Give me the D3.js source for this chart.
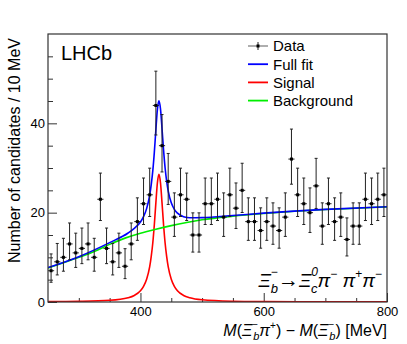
<!DOCTYPE html>
<html>
<head>
<meta charset="utf-8">
<script src="https://cdn.jsdelivr.net/npm/d3@7"></script>
<style>
  html, body { margin: 0; padding: 0; background: #fff; }
  svg { display: block; font-family: "Liberation Sans", Arial, Helvetica, sans-serif; }
</style>
</head>
<body>
<svg id="plot"></svg>
<script>
// bin centres of the 10 MeV histogram
const binCenters = d3.range(255, 800, 10);
// candidates per bin
const counts = [7, 9, 10, 13, 11, 12, 13, 10, 23, 12, 9, 11, 8, 13,
                18, 22, 24, 44, 35, 27, 19, 24, 23, 15, 15, 22, 22, 23,
                19, 24, 21, 25, 18, 18, 16, 18, 17, 16, 19, 32, 24, 22,
                20, 26, 17, 22, 18, 19, 14, 17, 17, 23, 22, 23, 24];

// mass points where the fit curves were sampled
const fitMass = [250, 300, 350, 380, 390, 400, 405, 410, 415, 417.5, 420, 422.5, 425, 427.5, 430,
                 432.5, 435, 437.5, 440, 442.5, 445, 450, 455, 460, 470, 480, 500, 550, 600, 700, 800];
// signal component (red)
const signalCurve = [0.08, 0.15, 0.38, 0.96, 1.47, 2.5, 3.5, 5.1, 7.9, 10.2, 13.2, 17.3, 22.2, 26.7, 28.6,
                     26.7, 22.2, 17.3, 13.2, 10.2, 7.9, 5.1, 3.5, 2.5, 1.47, 0.96, 0.5, 0.17, 0.085, 0.034, 0.02];
// full fit (blue)
const fullCurve = [7.7, 10.15, 13.3, 15.45, 16.5, 17.9, 19.1, 20.9, 23.9, 26.3, 29.35, 33.5, 38.5, 43.1, 45.05,
                   43.25, 38.8, 34.0, 30.0, 27.05, 24.85, 22.2, 20.75, 19.9, 19.1, 18.85, 18.9, 19.37, 19.89, 20.73, 21.32];
// background component (green)
const bkgMass = [250, 275, 300, 325, 350, 375, 400, 425, 450, 475, 500, 550, 600, 650, 700, 750, 800];
const bkgCurve = [7.6, 8.8, 10.0, 11.3, 12.9, 14.3, 15.4, 16.3, 17.1, 17.8, 18.4, 19.2, 19.8, 20.3, 20.7, 21.0, 21.3];

// axis ticks
const xMajor = [400, 600, 800];
const xMinor = [300, 350, 450, 500, 550, 650, 700, 750];
const yMajor = [0, 20, 40];
const yMinor = [5, 10, 15, 25, 30, 35, 45, 50, 55];

// legend entries
const legendLabels = ["Data", "Full fit", "Signal", "Background"];
const legendColors = ["#000", "#0000ff", "#ff0000", "#00ee00"];

class MassPlot {

    constructor() {
        this.width = 407;
        this.height = 344;
        this.margin = {top: 34, right: 20, bottom: 42, left: 48};
        this.iw = this.width - this.margin.left - this.margin.right;
        this.ih = this.height - this.margin.top - this.margin.bottom;

        this.x = d3.scaleLinear().domain([250, 800]).range([0, this.iw]);
        this.y = d3.scaleLinear().domain([0, 60]).range([this.ih, 0]);
    }

    // asymmetric poisson interval (Wilson-Hilferty approx of the chi2 quantiles)
    poisson(n) {
        let q = (k, z) => k * Math.pow(1 - 2 / (9 * k) + z * Math.sqrt(2 / (9 * k)), 3);
        return {lo: n - 0.5 * q(2 * n, -1), hi: 0.5 * q(2 * n + 2, 1) - n};
    }

    // write a piece of text made of italic / sub / sup parts
    rich(sel, parts) {
        let shift = 0;
        parts.forEach((p) => {
            let s = p.shift || 0;
            let ts = sel.append("tspan").text(p.t);
            if (s !== shift) ts.attr("dy", s - shift);
            if (p.dx) ts.attr("dx", p.dx);
            if (p.it) ts.style("font-style", "italic");
            if (p.size) ts.style("font-size", p.size + "px");
            shift = s;
        });
    }

    draw() {
        let svg = d3.select("#plot")
            .attr("width", this.width)
            .attr("height", this.height);

        let g = svg.append("g")
            .attr("transform", "translate(" + this.margin.left + "," + this.margin.top + ")");

        g.append("defs").append("clipPath").attr("id", "clip")
            .append("rect").attr("width", this.iw).attr("height", this.ih);

        // ticks (drawn inward, ROOT style)
        g.append("g").attr("transform", "translate(0," + this.ih + ")")
            .call(d3.axisBottom(this.x).tickValues(xMajor).tickSizeInner(-9).tickSizeOuter(0).tickPadding(5));
        g.append("g").attr("transform", "translate(0," + this.ih + ")")
            .call(d3.axisBottom(this.x).tickValues(xMinor).tickSizeInner(-4).tickSizeOuter(0).tickFormat(""));
        g.append("g")
            .call(d3.axisLeft(this.y).tickValues(yMajor).tickSizeInner(-9).tickSizeOuter(0).tickPadding(3));
        g.append("g")
            .call(d3.axisLeft(this.y).tickValues(yMinor).tickSizeInner(-5).tickSizeOuter(0).tickFormat(""));

        g.selectAll(".domain").remove();
        g.selectAll(".tick line").attr("stroke", "#333");
        g.selectAll(".tick text")
            .style("font-family", "'Liberation Sans', Arial, sans-serif")
            .style("font-size", "13px")
            .attr("fill", "#000");

        // fit curves
        let curves = g.append("g").attr("clip-path", "url(#clip)");
        let line = (xs) => d3.line()
            .x((d, i) => this.x(xs[i]))
            .y((d) => this.y(d))
            .curve(d3.curveMonotoneX);

        curves.append("path").datum(signalCurve)
            .attr("d", line(fitMass)).attr("fill", "none")
            .attr("stroke", "#ff0000").attr("stroke-width", 1.6);
        curves.append("path").datum(bkgCurve)
            .attr("d", line(bkgMass)).attr("fill", "none")
            .attr("stroke", "#00ee00").attr("stroke-width", 1.6);
        curves.append("path").datum(fullCurve)
            .attr("d", line(fitMass)).attr("fill", "none")
            .attr("stroke", "#0000ff").attr("stroke-width", 1.6);

        // data points with error bars
        let pts = g.append("g").selectAll("g")
            .data(counts.map((c, i) => ({m: binCenters[i], n: c, e: this.poisson(c)})))
            .enter().append("g");

        pts.append("line")
            .attr("x1", (d) => this.x(d.m)).attr("x2", (d) => this.x(d.m))
            .attr("y1", (d) => this.y(d.n - d.e.lo)).attr("y2", (d) => this.y(d.n + d.e.hi))
            .attr("stroke", "#222").attr("stroke-width", 1);
        pts.append("line")
            .attr("x1", (d) => this.x(d.m - 5)).attr("x2", (d) => this.x(d.m + 5))
            .attr("y1", (d) => this.y(d.n)).attr("y2", (d) => this.y(d.n))
            .attr("stroke", "#222").attr("stroke-width", 1);
        [(d) => d.n - d.e.lo, (d) => d.n + d.e.hi].forEach((f) => {
            pts.append("line")
                .attr("x1", (d) => this.x(d.m) - 1.5).attr("x2", (d) => this.x(d.m) + 1.5)
                .attr("y1", (d) => this.y(f(d))).attr("y2", (d) => this.y(f(d)))
                .attr("stroke", "#222").attr("stroke-width", 1);
        });
        pts.append("rect")
            .attr("x", (d) => this.x(d.m) - 1.5).attr("y", (d) => this.y(d.n) - 1.5)
            .attr("width", 3).attr("height", 3).attr("fill", "#000");

        // frame
        g.append("rect")
            .attr("width", this.iw).attr("height", this.ih)
            .attr("fill", "none").attr("stroke", "#333").attr("stroke-width", 1.2);

        // LHCb label
        svg.append("text").attr("x", 61).attr("y", 59.5)
            .style("font-size", "20px").text("LHCb");

        // legend
        let leg = svg.append("g");
        legendLabels.forEach((lab, i) => {
            let yy = 46 + i * 18.2;
            leg.append("line").attr("x1", 248).attr("x2", 268).attr("y1", yy).attr("y2", yy)
                .attr("stroke", i === 0 ? "#777" : legendColors[i]).attr("stroke-width", i === 0 ? 1.2 : 1.8);
            if (i === 0) {
                leg.append("line").attr("x1", 258).attr("x2", 258).attr("y1", yy - 4).attr("y2", yy + 4)
                    .attr("stroke", "#222");
                leg.append("rect").attr("x", 256.5).attr("y", yy - 1.5).attr("width", 3).attr("height", 3);
            }
            leg.append("text").attr("x", 273).attr("y", yy).attr("dy", "0.36em")
                .style("font-size", "15px").text(lab);
        });

        // decay label
        let dec = svg.append("text").attr("x", 382).attr("y", 287)
            .attr("text-anchor", "end").style("font-size", "19px");
        this.rich(dec, [
            {t: "Ξ", it: true},
            {t: "−", shift: -11, size: 12},
            {t: "b", shift: 6, size: 13, it: true, dx: -7},
            {t: "→", shift: 0, size: 21},
            {t: "Ξ", it: true},
            {t: "0", shift: -11, size: 12, it: true},
            {t: "c", shift: 6, size: 13, it: true, dx: -7},
            {t: "π", shift: 0, it: true},
            {t: "−", shift: -9, size: 12},
            {t: " π", shift: 0, it: true},
            {t: "+", shift: -9, size: 12},
            {t: "π", shift: 0, it: true},
            {t: "−", shift: -9, size: 12}
        ]);

        // x title
        let xt = svg.append("text").attr("x", 387).attr("y", 336)
            .attr("text-anchor", "end").style("font-size", "16px");
        this.rich(xt, [
            {t: "M", it: true},
            {t: "("},
            {t: "Ξ", it: true},
            {t: "−", shift: -8, size: 10},
            {t: "b", shift: 4, size: 11, it: true, dx: -5},
            {t: "π", shift: 0, it: true},
            {t: "+", shift: -7, size: 10},
            {t: ") − ", shift: 0},
            {t: "M", it: true},
            {t: "("},
            {t: "Ξ", it: true},
            {t: "−", shift: -8, size: 10},
            {t: "b", shift: 4, size: 11, it: true, dx: -5},
            {t: ") [MeV]", shift: 0}
        ]);

        // y title
        svg.append("text")
            .attr("transform", "translate(20,38) rotate(-90)")
            .attr("text-anchor", "end")
            .style("font-size", "16px")
            .text("Number of candidates / 10 MeV");
    }
}

let plot = new MassPlot();
plot.draw();
</script>
</body>
</html>
